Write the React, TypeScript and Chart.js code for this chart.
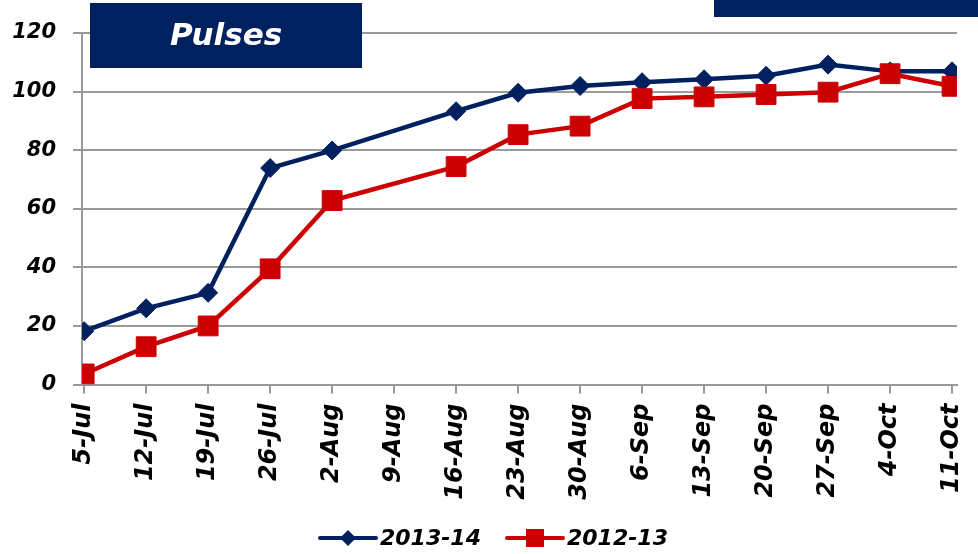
import React, { useEffect, useRef } from "react";
import { Chart, registerables } from "chart.js";

Chart.register(...registerables);

const categories = ["5-Jul", "12-Jul", "19-Jul", "26-Jul", "2-Aug", "9-Aug", "16-Aug", "23-Aug", "30-Aug", "6-Sep", "13-Sep", "20-Sep", "27-Sep", "4-Oct", "11-Oct"];
const series2013_14: (number | null)[] = [18.2, 26.0, 31.3, 73.9, 79.9, null, 93.3, 99.6, 101.9, 103.2, 104.2, 105.4, 109.2, 106.9, 106.9];
const series2012_13: (number | null)[] = [3.6, 12.9, 20.0, 39.5, 62.8, null, 74.4, 85.3, 88.2, 97.6, 98.2, 99.0, 99.8, 106.1, 101.8];
const yTicks = [0, 20, 40, 60, 80, 100, 120];
const titleText = "Pulses";
const seriesNames = ["2013-14", "2012-13"];

const NAVY = "#002060";
const RED = "#CC0000";
const GRID = "#9a9a9a";
const FAMILY = "'DejaVu Sans', sans-serif";

const W = 978;
const H = 554;

export default function App() {
  const ref = useRef<HTMLCanvasElement | null>(null);

  useEffect(() => {
    const canvas = ref.current;
    if (!canvas) return;

    const decor = {
      id: "decor",
      afterDraw(chart: any) {
        const ctx = chart.ctx as CanvasRenderingContext2D;
        ctx.save();
        // title box
        ctx.fillStyle = NAVY;
        ctx.fillRect(90, 3, 272, 65);
        ctx.fillStyle = "#ffffff";
        ctx.font = `italic bold 31px ${FAMILY}`;
        ctx.textAlign = "center";
        ctx.textBaseline = "middle";
        ctx.fillText(titleText, 226, 37);
        // top-right box
        ctx.fillStyle = NAVY;
        ctx.fillRect(714, 0, 264, 17);

        // legend
        const ly = 538;
        const drawEntry = (x0: number, color: string, marker: "diamond" | "square", label: string) => {
          ctx.strokeStyle = color;
          ctx.lineWidth = 4;
          ctx.lineCap = "round";
          ctx.beginPath();
          ctx.moveTo(x0, ly);
          ctx.lineTo(x0 + 56, ly);
          ctx.stroke();
          ctx.fillStyle = color;
          const cx = x0 + 28;
          ctx.beginPath();
          if (marker === "diamond") {
            const r = 8;
            ctx.moveTo(cx - r, ly);
            ctx.lineTo(cx, ly - r);
            ctx.lineTo(cx + r, ly);
            ctx.lineTo(cx, ly + r);
            ctx.closePath();
          } else {
            ctx.rect(cx - 9, ly - 9, 18, 18);
          }
          ctx.fill();
          ctx.fillStyle = "#000";
          ctx.font = `italic bold 22px ${FAMILY}`;
          ctx.textAlign = "left";
          ctx.textBaseline = "middle";
          ctx.fillText(label, x0 + 60, ly + 1);
        };
        drawEntry(320, NAVY, "diamond", seriesNames[0]);
        drawEntry(507, RED, "square", seriesNames[1]);
        ctx.restore();
      },
    };

    const tickFont = { family: FAMILY, weight: "bold" as const, style: "italic" as const };

    const chart = new Chart(canvas, {
      type: "line",
      data: {
        datasets: [
          {
            label: seriesNames[0],
            data: series2013_14.map((v, i) => ({ x: i, y: v })) as any,
            borderColor: NAVY,
            backgroundColor: NAVY,
            borderWidth: 4.5,
            pointStyle: "rectRot",
            pointRadius: 9.5,
            pointBorderWidth: 1,
            pointBorderColor: NAVY,
            pointBackgroundColor: NAVY,
            spanGaps: true,
            tension: 0,
            order: 1,
          },
          {
            label: seriesNames[1],
            data: series2012_13.map((v, i) => ({ x: i, y: v })) as any,
            borderColor: RED,
            backgroundColor: RED,
            borderWidth: 4.5,
            pointStyle: "rect",
            pointRadius: 14,
            pointBorderWidth: 1,
            pointBorderColor: RED,
            pointBackgroundColor: RED,
            spanGaps: true,
            tension: 0,
            order: 0,
          },
        ],
      },
      options: {
        responsive: false,
        animation: false,
        layout: { padding: { top: 33, right: 21, bottom: 0, left: 0 } },
        plugins: {
          legend: { display: false },
          tooltip: { enabled: false },
        },
        scales: {
          x: {
            type: "linear",
            min: -0.035,
            max: 14.08,
            grid: { drawOnChartArea: false, drawTicks: true, tickLength: 9, color: GRID, lineWidth: 2 },
            border: { color: GRID, width: 2 },
            afterBuildTicks: (s: any) => {
              s.ticks = categories.map((_, i) => ({ value: i }));
            },
            ticks: {
              autoSkip: false,
              minRotation: 90,
              maxRotation: 90,
              padding: 10,
              color: "#000",
              font: { ...tickFont, size: 24 },
              callback: (v: any) => categories[Math.round(Number(v))] ?? "",
            },
            afterFit: (s: any) => {
              s.height = H - 384.5;
              s.paddingLeft = 0;
              s.paddingRight = 0;
            },
          },
          y: {
            min: 0,
            max: 120,
            afterBuildTicks: (s: any) => {
              s.ticks = yTicks.map((v) => ({ value: v }));
            },
            grid: { color: GRID, lineWidth: 2, tickLength: 9 },
            border: { color: GRID, width: 2 },
            ticks: {
              padding: 17,
              color: "#000",
              font: { ...tickFont, size: 21 },
            },
            afterFit: (s: any) => {
              s.width = 82;
              s.paddingTop = 0;
              s.paddingBottom = 0;
            },
          },
        },
      },
      plugins: [decor],
    });

    return () => chart.destroy();
  }, []);

  return (
    <div style={{ position: "absolute", left: 0, top: 0, width: W, height: H, background: "#fff" }}>
      <canvas ref={ref} width={W} height={H} style={{ display: "block", width: W, height: H }} />
    </div>
  );
}
